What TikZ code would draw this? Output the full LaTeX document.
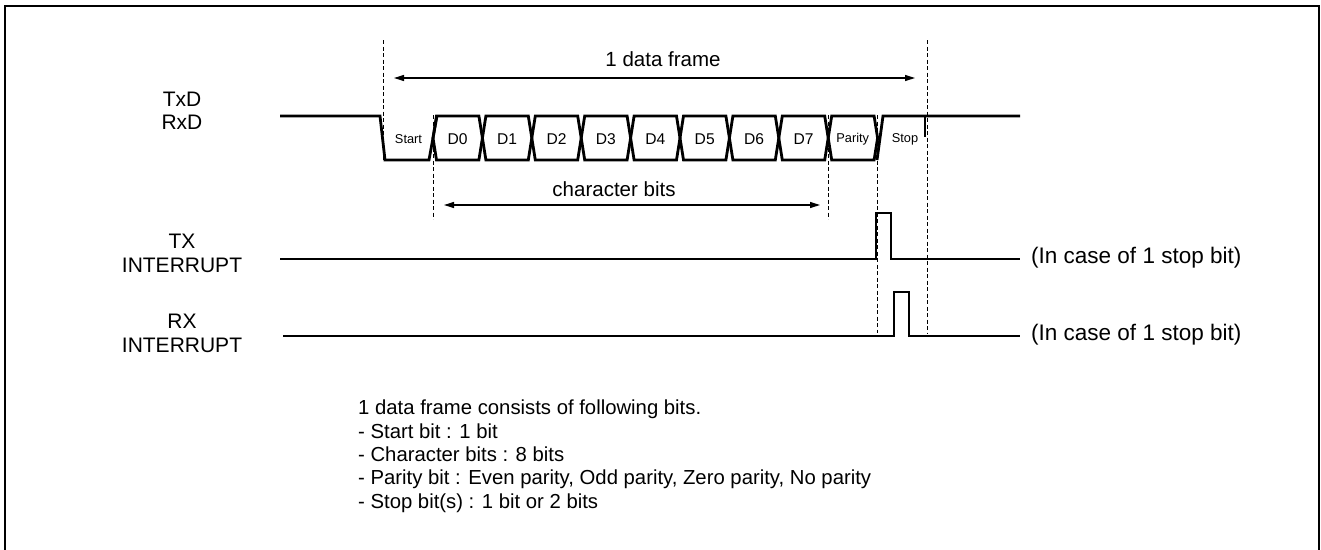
\documentclass[tikz,border=0pt]{standalone}
\usepackage{fontspec}
\setmainfont{Liberation Sans}
\usetikzlibrary{arrows.meta}
\begin{document}
\begin{tikzpicture}[x=1pt,y=-1pt,
  sig/.style={line width=2.8pt, line join=miter},
  guide/.style={line width=0.9pt, dash pattern=on 4pt off 2.5pt},
  dimline/.style={line width=1.3pt, {Triangle[length=10pt,width=6pt]}-{Triangle[length=10pt,width=6pt]}},
  lbl/.style={font=\fontsize{20.5}{23.3}\selectfont, align=center, inner sep=0pt},
  sidelbl/.style={font=\fontsize{21}{23.3}\selectfont, align=center, inner sep=0pt},
  caselbl/.style={font=\fontsize{22.5}{25}\selectfont, inner sep=0pt},
  smalllbl/.style={font=\fontsize{12.8}{14}\selectfont, inner sep=0pt},
  bitlbl/.style={font=\fontsize{15.6}{17}\selectfont, inner sep=0pt}]
\useasboundingbox (0,0) rectangle (1321,549);
% frame
\draw[line width=2pt] (5,560) -- (5,6) -- (1319,6) -- (1319,560);

% guides
\draw[guide] (383,40) -- (383,160);
\draw[guide] (433,115) -- (433,219);
\draw[guide] (828,115) -- (828,219);
\draw[guide] (877,115) -- (877,333);
\draw[guide] (927,40) -- (927,333);

% TxD/RxD waveform
\draw[sig] (280,116) -- (380,116) -- (385,160) -- (429,160) -- (437,116);
\foreach \k in {0,...,8}{
  \pgfmathsetmacro{\xa}{433+49.4*\k}
  \pgfmathsetmacro{\xb}{\xa+49.4}
  \draw[sig] (\xa+3.5,116) -- (\xb-3.5,116) -- (\xb,138) -- (\xb-3.5,160) -- (\xa+3.5,160) -- (\xa,138) -- cycle;
}
\draw[sig] (877,160) -- (883,116) -- (1020,116);
\draw[sig] (925,116) -- (925,137);

\node[smalllbl] (start) at (408.5,139) {Start};
\foreach \k/\t in {0/D0,1/D1,2/D2,3/D3,4/D4,5/D5,6/D6,7/D7}{
  \node[bitlbl] (bit\k) at ({433+49.4*\k+24.7},139) {\t};
}
\node[smalllbl] (parity) at (852.7,139) {Parity};
\node[smalllbl] (stop) at (905,139) {Stop};

% dimension arrows
\coordinate (fL) at (394,78);
\coordinate (fR) at (915,78);
\draw[dimline] (fL) -- (fR);
\node[lbl, anchor=base] (frame) at (663,66) {1 data frame};
\coordinate (cL) at (444,205);
\coordinate (cR) at (820,205);
\draw[dimline] (cL) -- (cR);
\node[lbl, anchor=base] (chars) at (614,196) {character bits};

% interrupts
\draw[sig] (280,259) -- (876,259) -- (876,213) -- (891,213) -- (891,259) -- (1020,259);
\draw[sig] (283,336) -- (894,336) -- (894,292) -- (909,292) -- (909,336) -- (1020,336);

% labels
\node[sidelbl] (txd) at (182,111) {TxD\\RxD};
\node[sidelbl] (txi) at (182,253.5) {TX\\INTERRUPT};
\node[sidelbl] (rxi) at (182,333.5) {RX\\INTERRUPT};
\node[caselbl, anchor=west] (txcase) at (1031,258) {(In case of 1 stop bit)};
\node[caselbl, anchor=west] (rxcase) at (1031,335) {(In case of 1 stop bit)};

% notes
\node[lbl, font=\fontsize{20.3}{23.3}\selectfont, align=left, anchor=base west] (notes) at (358,508)
 {1 data frame consists of following bits.\\
  - Start bit : 1 bit\\
  - Character bits : 8 bits\\
  - Parity bit : Even parity, Odd parity, Zero parity, No parity\\
  - Stop bit(s) : 1 bit or 2 bits};
\end{tikzpicture}
\end{document}
